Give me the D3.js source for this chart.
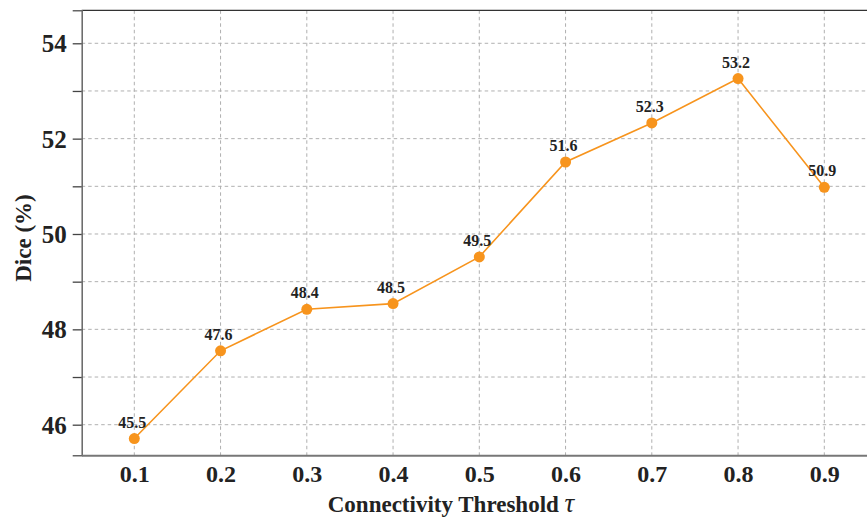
<!DOCTYPE html>
<html>
<head>
<meta charset="utf-8">
<script src="https://cdn.jsdelivr.net/npm/d3@7"></script>
<style>
  body { margin: 0; background: #fff; }
  svg { display: block; }
  text { font-family: "Liberation Serif", "Times New Roman", serif; font-weight: bold; fill: #222; }
</style>
</head>
<body>
<svg id="chart" width="867" height="519"></svg>
<script>
const thresholds = [0.1, 0.2, 0.3, 0.4, 0.5, 0.6, 0.7, 0.8, 0.9];
const diceValues = [45.71, 47.55, 48.42, 48.54, 49.52, 51.51, 52.33, 53.26, 50.98];
const diceLabels = ["45.5", "47.6", "48.4", "48.5", "49.5", "51.6", "52.3", "53.2", "50.9"];
const yMajorTicks = [46, 48, 50, 52, 54];
const yMinorTicks = [47, 49, 51, 53];
const xTickLabels = ["0.1", "0.2", "0.3", "0.4", "0.5", "0.6", "0.7", "0.8", "0.9"];

const svg = d3.select("#chart");
const mLeft = 81.7, mRight = 868, mTop = 10.3, mBottom = 455.3;

const x = d3.scaleLinear().domain([0.039, 0.9 + (mRight - 824.3) / 862.5]).range([mLeft, mRight]);
const y = d3.scaleLinear().domain([45.358, 54.692]).range([mBottom, mTop]);

const gridColor = "#b0b0b0";
// horizontal grid
svg.append("g").selectAll("line").data(yMajorTicks.concat(yMinorTicks)).join("line")
  .attr("x1", mLeft).attr("x2", mRight)
  .attr("y1", d => y(d)).attr("y2", d => y(d))
  .attr("stroke", gridColor).attr("stroke-width", 1).attr("stroke-dasharray", "3.5,3");
// vertical grid
svg.append("g").selectAll("line").data(thresholds).join("line")
  .attr("x1", d => x(d)).attr("x2", d => x(d))
  .attr("y1", mTop).attr("y2", mBottom)
  .attr("stroke", gridColor).attr("stroke-width", 1).attr("stroke-dasharray", "3.5,3");

// top border
svg.append("line").attr("x1", mLeft).attr("x2", mRight).attr("y1", mTop).attr("y2", mTop)
  .attr("stroke", "#333").attr("stroke-width", 1.2);

// Y axis
const yAxis = d3.axisLeft(y).tickValues(yMajorTicks.concat(yMinorTicks)).tickSize(9).tickPadding(6)
  .tickFormat(d => yMajorTicks.includes(d) ? d : "");
const gy = svg.append("g").attr("transform", `translate(${mLeft},0)`).call(yAxis);
gy.select(".domain").attr("stroke", "#666").attr("stroke-width", 1.5);
gy.selectAll(".tick line").attr("stroke", "#444").attr("stroke-width", 1.3);
gy.selectAll(".tick text").style("font-size", "25px").attr("fill", "#222").attr("dy", "0.34em");

// X axis
const xAxis = d3.axisBottom(x).tickValues(thresholds).tickSize(0).tickPadding(10)
  .tickFormat((d, i) => xTickLabels[i]);
const gx = svg.append("g").attr("transform", `translate(0,${mBottom})`).call(xAxis);
gx.select(".domain").attr("stroke", "#777").attr("stroke-width", 2);
gx.selectAll(".tick text").style("font-size", "24px").attr("fill", "#222");

// line
const pts = thresholds.map((t, i) => [t, diceValues[i]]);
const color = "#F7941D";
svg.append("path").datum(pts)
  .attr("d", d3.line().x(d => x(d[0])).y(d => y(d[1])))
  .attr("fill", "none").attr("stroke", color).attr("stroke-width", 1.6);
svg.append("g").selectAll("circle").data(pts).join("circle")
  .attr("cx", d => x(d[0])).attr("cy", d => y(d[1])).attr("r", 5.5)
  .attr("fill", color);

// data labels
svg.append("g").selectAll("text").data(pts).join("text")
  .attr("x", d => x(d[0]) - 2).attr("y", d => y(d[1]) - 11)
  .attr("text-anchor", "middle").style("font-size", "16px")
  .text((d, i) => diceLabels[i]);

// axis titles
svg.append("text").attr("x", 451).attr("y", 511.5).attr("text-anchor", "middle")
  .style("font-size", "23px").text("Connectivity Threshold ")
  .append("tspan").style("font-style", "italic").style("font-weight", "normal")
  .style("font-size", "27px").text("τ");
svg.append("text").attr("transform", "translate(31,238) rotate(-90)").attr("text-anchor", "middle")
  .style("font-size", "23px").text("Dice (%)");
</script>
</body>
</html>
